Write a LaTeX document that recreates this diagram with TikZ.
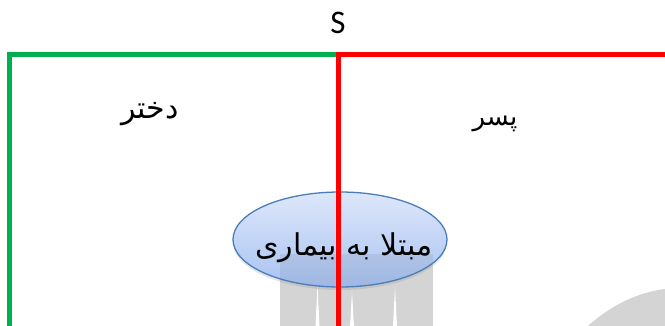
\documentclass[tikz,border=0pt]{standalone}
\usepackage{fontspec}
\setmainfont{Carlito}
\newfontfamily\arabicfont[Script=Arabic]{DejaVu Sans}
\TeXXeTstate=1
\usetikzlibrary{shadows,shapes.geometric}
\definecolor{sgreen}{HTML}{00B050}
\definecolor{sred}{HTML}{FF0000}
\definecolor{elltop}{HTML}{DDE7FA}
\definecolor{ellbot}{HTML}{A9C3F2}
\definecolor{ellline}{HTML}{4A7EBB}
\begin{document}
\begin{tikzpicture}[x=1pt,y=-1pt,
  setline/.style={line width=5pt,line join=miter},
  arlab/.style={font=\arabicfont\fontsize{30}{34}\selectfont,inner sep=0pt,text=black},
  wmark/.style={fill=black,opacity=0.17}]
\useasboundingbox (0,0) rectangle (665,326);
\fill[white] (0,0) rectangle (665,326);
% title
\node[font=\fontsize{33}{37}\selectfont,inner sep=0pt] (s) at (338,23) {S};
% green set
\coordinate (gbot) at (9,340);
\coordinate (gtl) at (9,55);
\coordinate (gtr) at (338,55);
\draw[setline,sgreen] (gbot) -- (gtl) -- (gtr);
% labels
\node[arlab] (girl) at (150,114) {\beginR دختر\endR};
\node[arlab,font=\arabicfont\fontsize{26}{30}\selectfont] (boy) at (495,124) {\beginR پسر\endR};
% watermark below the ellipse
\fill[wmark] (280,254) rectangle (433,326);
\fill[white] (315.5,326) -- (317.5,285) -- (319.5,326) -- cycle;
\fill[white] (350,326) -- (352,292) -- (354,326) -- cycle;
\fill[white] (393,326) -- (395,287) -- (397,326) -- cycle;
\fill[wmark] (588,326) .. controls (612,304) and (640,292) .. (665,289) -- (665,326) -- cycle;
% ellipse
\node[ellipse,minimum width=214pt,minimum height=95pt,draw=ellline,line width=1.3pt,
  top color=elltop,bottom color=ellbot,
  drop shadow={shadow xshift=0pt,shadow yshift=-3pt,opacity=0.2}] (dis) at (340,239.5) {};
\begin{scope}
\clip (dis.center) ellipse [x radius=106pt, y radius=47pt];
\fill[black,opacity=0.06] (280,254) rectangle (433,326);
\end{scope}
\node[arlab] (distext) at (344,248) {\beginR مبتلا به بیماری\endR};
% red set
\coordinate (rbot) at (338,340);
\coordinate (rtl) at (338,55);
\coordinate (rtr) at (667,55);
\coordinate (rbr) at (667,340);
\draw[setline,sred] (rbot) -- (rtl) -- (rtr) -- (rbr);
\end{tikzpicture}
\end{document}
